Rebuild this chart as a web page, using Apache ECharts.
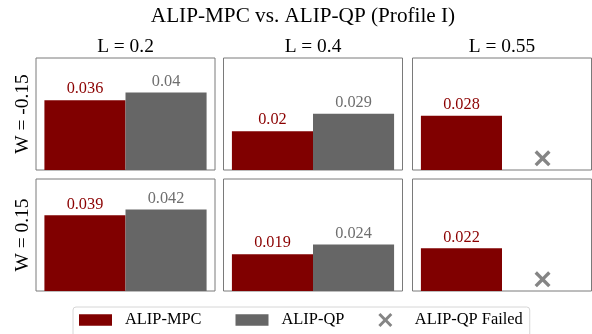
<!DOCTYPE html>
<html>
<head>
<meta charset="utf-8">
<script src="https://cdn.jsdelivr.net/npm/echarts@6/dist/echarts.min.js"></script>
<style>
  html, body { margin: 0; padding: 0; background: #fff; }
  #chart { width: 592px; height: 334px; }
</style>
</head>
<body>
<div id="chart"></div>
<script>
// Panel layout: columns are lateral offsets L, rows are widths W
const columnLabels = ['L = 0.2', 'L = 0.4', 'L = 0.55'];
const rowLabels = ['W = -0.15', 'W = 0.15'];
const seriesNames = ['ALIP-MPC', 'ALIP-QP', 'ALIP-QP Failed'];

// Values per row (W), then per column (L); null means the QP solver failed
const mpcValues = [
  [0.036, 0.02, 0.028],
  [0.039, 0.019, 0.022]
];
const qpValues = [
  [0.04, 0.029, null],
  [0.042, 0.024, null]
];
// Height at which the "failed" cross is placed
const failedMarkerY = 0.006;
const yMax = 0.05775;

const FONT = "'Liberation Serif', 'Times New Roman', serif";
const MPC_COLOR = '#800000';
const QP_COLOR = '#666666';

const colLeft = [36, 223.5, 412.5];
const rowTop = [58, 179];
const panelW = 179;
const panelH = 112;
const catGap = 0.094;
const slotOffset = panelW * (1 - catGap) / 4;

// X-shaped marker and a flat rectangle for the legend patches
const crossPath = 'path://M0,1.5 L1.5,0 L5,3.5 L8.5,0 L10,1.5 L6.5,5 L10,8.5 L8.5,10 L5,6.5 L1.5,10 L0,8.5 L3.5,5 Z';
const patchPath = 'path://M0,0 H33 V11.5 H0 Z';

const grids = [], xAxes = [], yAxes = [], series = [];

rowLabels.forEach((_, r) => {
  columnLabels.forEach((_, c) => {
    const idx = grids.length;
    grids.push({
      left: colLeft[c], top: rowTop[r], width: panelW, height: panelH,
      show: true, borderColor: '#7a7a7a', borderWidth: 1, backgroundColor: '#fff'
    });
    xAxes.push({ type: 'category', gridIndex: idx, data: [''], show: false });
    yAxes.push({ type: 'value', gridIndex: idx, min: 0, max: yMax, show: false });

    const labelFor = (color) => ({
      show: true, position: 'top', distance: 3,
      color: color, fontSize: 16.3, fontFamily: FONT
    });

    series.push({
      name: seriesNames[0], type: 'bar', xAxisIndex: idx, yAxisIndex: idx,
      data: [mpcValues[r][c]],
      barGap: '0%', barCategoryGap: (catGap * 100) + '%',
      itemStyle: { color: MPC_COLOR },
      label: labelFor('#8b0000')
    });
    const qp = qpValues[r][c];
    series.push({
      name: seriesNames[1], type: 'bar', xAxisIndex: idx, yAxisIndex: idx,
      data: [qp === null ? '-' : qp],
      barGap: '0%', barCategoryGap: (catGap * 100) + '%',
      itemStyle: { color: QP_COLOR },
      label: labelFor('#6e6e6e')
    });
    if (qp === null) {
      series.push({
        name: seriesNames[2], type: 'scatter', xAxisIndex: idx, yAxisIndex: idx,
        data: [[0, failedMarkerY]],
        symbol: crossPath, symbolSize: 16, symbolOffset: [slotOffset, 0],
        itemStyle: { color: QP_COLOR }, z: 5
      });
    }
  });
});

const graphics = [
  { type: 'text', x: 303, y: 16.2,
    style: { text: 'ALIP-MPC vs. ALIP-QP (Profile I)', fontSize: 21.2, fontFamily: FONT,
             fill: '#000', align: 'center', verticalAlign: 'middle' } }
];
columnLabels.forEach((t, c) => {
  graphics.push({ type: 'text', x: colLeft[c] + panelW / 2, y: 46.9,
    style: { text: t, fontSize: 19.4, fontFamily: FONT, fill: '#000',
             align: 'center', verticalAlign: 'middle' } });
});
rowLabels.forEach((t, r) => {
  graphics.push({ type: 'text', x: 23, y: rowTop[r] + panelH / 2, rotation: Math.PI / 2,
    style: { text: t, fontSize: 19.4, fontFamily: FONT, fill: '#000',
             align: 'center', verticalAlign: 'middle' } });
});

const chart = echarts.init(document.getElementById('chart'), null, { renderer: 'canvas' });
chart.setOption({
  animation: false,
  backgroundColor: '#fff',
  grid: grids,
  xAxis: xAxes,
  yAxis: yAxes,
  series: series,
  graphic: graphics,
  legend: {
    left: 73, top: 307,
    padding: [5, 7, 12, 6],
    borderColor: '#d6d6d6', borderWidth: 1, borderRadius: 3,
    backgroundColor: '#fff',
    itemWidth: 33, itemHeight: 14, itemGap: 34,
    symbolKeepAspect: true,
    selectedMode: false,
    textStyle: { fontSize: 16.4, fontFamily: FONT, color: '#000', padding: [0, 0, 0, 8] },
    data: [
      { name: seriesNames[0], icon: patchPath },
      { name: seriesNames[1], icon: patchPath },
      { name: seriesNames[2], icon: crossPath }
    ]
  }
});
</script>
</body>
</html>
